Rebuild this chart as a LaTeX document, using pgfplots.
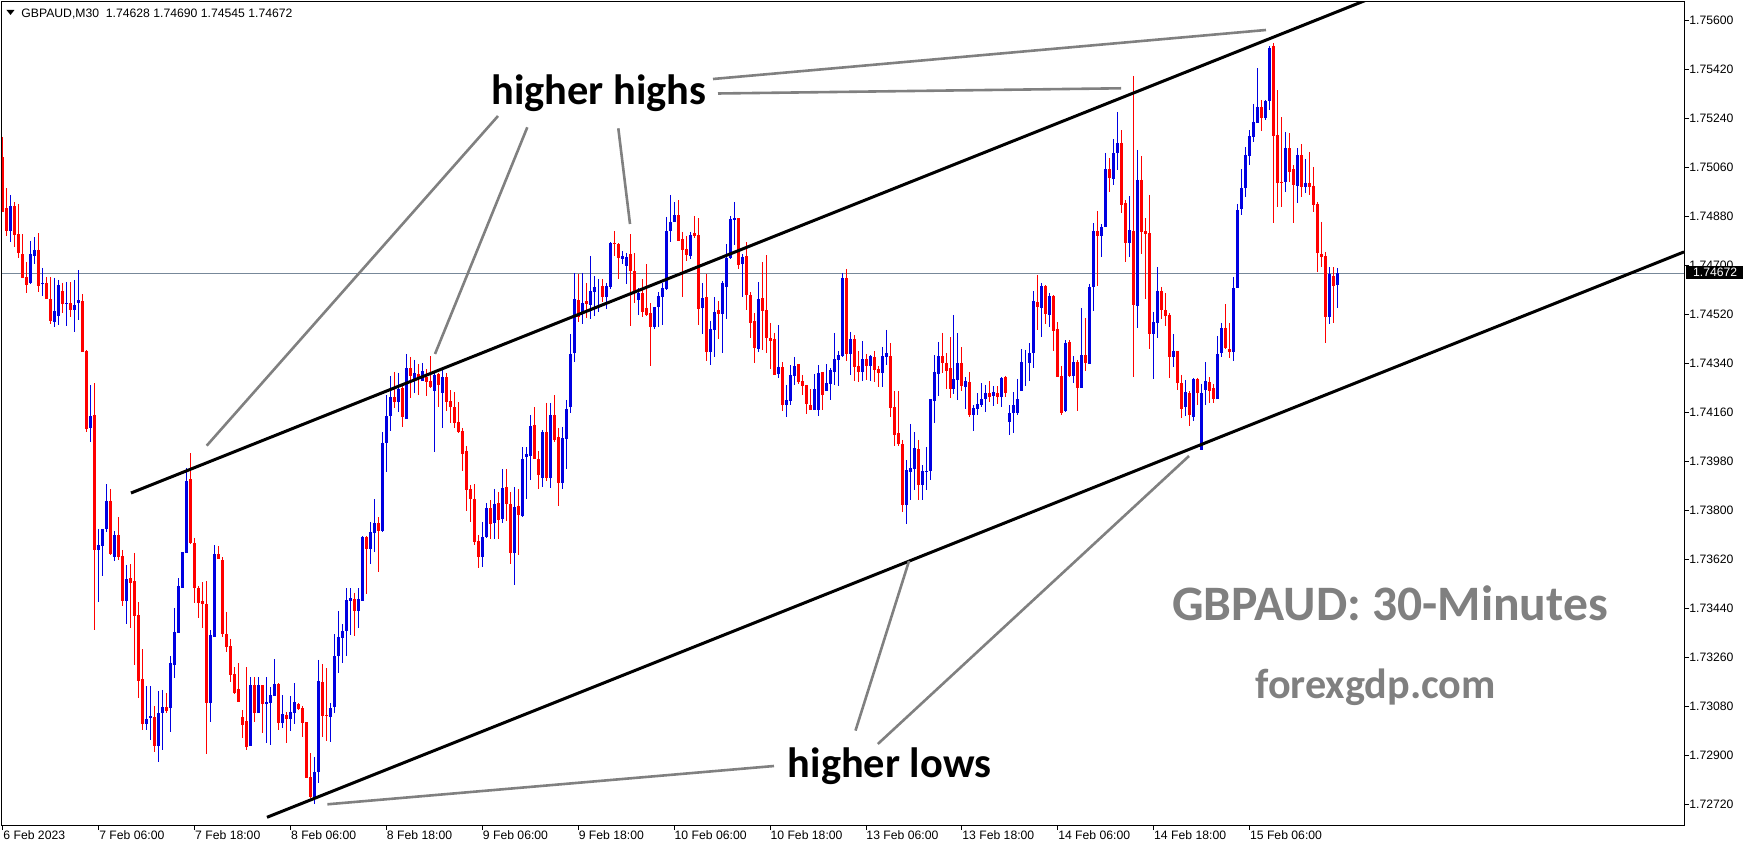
\documentclass[border=0pt]{standalone}
\usepackage{fontspec}
\setmainfont{Liberation Sans}
\newfontfamily\carlito{Carlito}
\usepackage{pgfplots}
\usepackage{pgfplotstable}
\pgfplotsset{compat=1.18}
\definecolor{bull}{RGB}{0,0,225}
\definecolor{bear}{RGB}{255,0,0}
\definecolor{anno}{RGB}{128,128,128}
\definecolor{bidline}{RGB}{119,136,153}
\newcommand\tickfont{\fontsize{6.1}{7}\selectfont}

\pgfplotstableread{
k o h l c
0 1.75098 1.75172 1.74896 1.74896
1 1.74911 1.74984 1.74808 1.74826
2 1.74826 1.74959 1.74786 1.74918
3 1.74918 1.74933 1.74768 1.74812
4 1.74815 1.74926 1.74727 1.74746
5 1.74742 1.74815 1.74654 1.74654
6 1.74658 1.74713 1.74599 1.74628
7 1.74636 1.74790 1.74632 1.74742
8 1.74735 1.74804 1.74705 1.74757
9 1.74757 1.74819 1.74602 1.74625
10 1.74632 1.74691 1.74588 1.74636
11 1.74636 1.74658 1.74577 1.74577
12 1.74577 1.74658 1.74485 1.74496
13 1.74492 1.74654 1.74474 1.74533
14 1.74514 1.74647 1.74481 1.74628
15 1.74606 1.74636 1.74525 1.74558
16 1.74558 1.74639 1.74478 1.74562
17 1.74562 1.74639 1.74511 1.74536
18 1.74536 1.74647 1.74456 1.74555
19 1.74562 1.74683 1.74500 1.74573
20 1.74569 1.74595 1.74382 1.74382
21 1.74386 1.74389 1.74088 1.74099
22 1.74103 1.74261 1.74052 1.74147
23 1.74151 1.74268 1.73361 1.73655
24 1.73655 1.73732 1.73464 1.73673
25 1.73670 1.73732 1.73559 1.73732
26 1.73732 1.73897 1.73721 1.73835
27 1.73835 1.73879 1.73636 1.73640
28 1.73629 1.73725 1.73614 1.73710
29 1.73710 1.73776 1.73618 1.73629
30 1.73633 1.73655 1.73449 1.73467
31 1.73467 1.73600 1.73383 1.73548
32 1.73552 1.73603 1.73368 1.73534
33 1.73541 1.73644 1.73232 1.73412
34 1.73416 1.73464 1.73111 1.73174
35 1.73181 1.73291 1.72994 1.73016
36 1.73016 1.73155 1.72994 1.73034
37 1.73038 1.73155 1.72957 1.73045
38 1.73041 1.73082 1.72913 1.72935
39 1.72935 1.73137 1.72876 1.73056
40 1.73056 1.73141 1.72920 1.73078
41 1.73078 1.73130 1.73056 1.73063
42 1.73074 1.73266 1.72986 1.73240
43 1.73232 1.73442 1.73185 1.73354
44 1.73350 1.73552 1.73350 1.73523
45 1.73515 1.73648 1.73515 1.73648
46 1.73644 1.73956 1.73644 1.73908
47 1.73916 1.74011 1.73677 1.73681
48 1.73681 1.73699 1.73460 1.73515
49 1.73515 1.73523 1.73405 1.73460
50 1.73467 1.73537 1.73368 1.73456
51 1.73456 1.73541 1.72906 1.73093
52 1.73093 1.73361 1.73023 1.73343
53 1.73335 1.73673 1.73335 1.73640
54 1.73640 1.73670 1.73622 1.73622
55 1.73618 1.73629 1.73335 1.73346
56 1.73346 1.73427 1.73280 1.73299
57 1.73302 1.73328 1.73170 1.73196
58 1.73199 1.73225 1.73126 1.73130
59 1.73144 1.73240 1.73097 1.73097
60 1.73041 1.73067 1.72964 1.73012
61 1.73027 1.73225 1.72920 1.72931
62 1.72935 1.73188 1.72935 1.73159
63 1.73159 1.73188 1.73023 1.73056
64 1.73056 1.73188 1.73056 1.73159
65 1.73159 1.73159 1.72983 1.73089
66 1.73089 1.73188 1.72946 1.73097
67 1.73093 1.73152 1.72939 1.73122
68 1.73119 1.73254 1.73119 1.73163
69 1.73163 1.73166 1.72994 1.73019
70 1.73019 1.73122 1.73001 1.73052
71 1.73049 1.73060 1.72946 1.73034
72 1.73034 1.73119 1.72990 1.73060
73 1.73056 1.73166 1.73016 1.73097
74 1.73089 1.73093 1.73067 1.73071
75 1.73074 1.73082 1.72968 1.73019
76 1.73023 1.73023 1.72817 1.72817
77 1.72821 1.72909 1.72744 1.72748
78 1.72748 1.72895 1.72722 1.72839
79 1.72839 1.73251 1.72799 1.73174
80 1.73170 1.73236 1.72968 1.73045
81 1.73049 1.73221 1.72953 1.73045
82 1.73041 1.73093 1.72950 1.73074
83 1.73078 1.73346 1.73056 1.73266
84 1.73266 1.73431 1.73203 1.73335
85 1.73332 1.73383 1.73240 1.73357
86 1.73357 1.73515 1.73266 1.73471
87 1.73467 1.73515 1.73343 1.73478
88 1.73475 1.73497 1.73339 1.73431
89 1.73431 1.73515 1.73368 1.73475
90 1.73467 1.73706 1.73467 1.73703
91 1.73703 1.73706 1.73493 1.73658
92 1.73658 1.73758 1.73603 1.73721
93 1.73717 1.73842 1.73648 1.73754
94 1.73754 1.73776 1.73574 1.73725
95 1.73725 1.74088 1.73721 1.74048
96 1.74048 1.74224 1.73941 1.74147
97 1.74147 1.74294 1.74092 1.74217
98 1.74217 1.74309 1.74176 1.74198
99 1.74198 1.74305 1.74162 1.74246
100 1.74250 1.74268 1.74107 1.74143
101 1.74136 1.74375 1.74136 1.74323
102 1.74323 1.74364 1.74213 1.74294
103 1.74279 1.74353 1.74231 1.74305
104 1.74301 1.74338 1.74224 1.74290
105 1.74276 1.74342 1.74276 1.74312
106 1.74290 1.74320 1.74220 1.74272
107 1.74276 1.74367 1.74250 1.74254
108 1.74239 1.74309 1.74015 1.74298
109 1.74301 1.74305 1.74180 1.74261
110 1.74231 1.74316 1.74103 1.74290
111 1.74290 1.74305 1.74165 1.74198
112 1.74202 1.74242 1.74121 1.74180
113 1.74180 1.74235 1.74103 1.74121
114 1.74125 1.74198 1.74085 1.74088
115 1.74092 1.74103 1.73945 1.74007
116 1.74018 1.74037 1.73798 1.73875
117 1.73879 1.73894 1.73758 1.73842
118 1.73842 1.73897 1.73673 1.73684
119 1.73688 1.73710 1.73589 1.73629
120 1.73629 1.73758 1.73592 1.73703
121 1.73703 1.73827 1.73699 1.73809
122 1.73809 1.73838 1.73695 1.73750
123 1.73754 1.73879 1.73695 1.73824
124 1.73827 1.73868 1.73695 1.73765
125 1.73769 1.73952 1.73754 1.73883
126 1.73886 1.73952 1.73761 1.73824
127 1.73824 1.73868 1.73603 1.73644
128 1.73644 1.73886 1.73526 1.73813
129 1.73816 1.73879 1.73636 1.73783
130 1.73780 1.74033 1.73776 1.73989
131 1.73996 1.74033 1.73842 1.74007
132 1.74000 1.74151 1.73912 1.74110
133 1.74114 1.74180 1.73989 1.73989
134 1.73989 1.74018 1.73879 1.73930
135 1.73919 1.74096 1.73886 1.74088
136 1.74088 1.74195 1.73908 1.73919
137 1.73919 1.74195 1.73883 1.74151
138 1.74151 1.74224 1.74052 1.74059
139 1.74070 1.74103 1.73816 1.73901
140 1.73901 1.74107 1.73879 1.74066
141 1.74062 1.74206 1.73952 1.74173
142 1.74180 1.74448 1.74158 1.74375
143 1.74378 1.74672 1.74345 1.74577
144 1.74573 1.74669 1.74492 1.74511
145 1.74529 1.74672 1.74485 1.74562
146 1.74569 1.74636 1.74507 1.74558
147 1.74555 1.74735 1.74503 1.74606
148 1.74602 1.74661 1.74514 1.74621
149 1.74621 1.74650 1.74529 1.74621
150 1.74625 1.74650 1.74566 1.74584
151 1.74584 1.74636 1.74540 1.74625
152 1.74621 1.74786 1.74613 1.74782
153 1.74782 1.74826 1.74735 1.74779
154 1.74779 1.74782 1.74650 1.74727
155 1.74724 1.74753 1.74705 1.74735
156 1.74698 1.74746 1.74632 1.74731
157 1.74742 1.74815 1.74478 1.74680
158 1.74680 1.74746 1.74562 1.74599
159 1.74573 1.74617 1.74518 1.74599
160 1.74599 1.74650 1.74511 1.74529
161 1.74544 1.74705 1.74514 1.74518
162 1.74525 1.74562 1.74331 1.74474
163 1.74474 1.74547 1.74467 1.74547
164 1.74547 1.74602 1.74474 1.74588
165 1.74584 1.74636 1.74481 1.74617
166 1.74613 1.74878 1.74610 1.74826
167 1.74826 1.74959 1.74786 1.74860
168 1.74860 1.74933 1.74860 1.74885
169 1.74885 1.74940 1.74790 1.74790
170 1.74797 1.74823 1.74584 1.74757
171 1.74760 1.74808 1.74716 1.74738
172 1.74735 1.74823 1.74724 1.74812
173 1.74819 1.74882 1.74801 1.74808
174 1.74812 1.74874 1.74481 1.74540
175 1.74544 1.74636 1.74448 1.74580
176 1.74584 1.74669 1.74349 1.74382
177 1.74382 1.74496 1.74334 1.74467
178 1.74463 1.74584 1.74364 1.74529
179 1.74536 1.74569 1.74430 1.74522
180 1.74522 1.74643 1.74378 1.74636
181 1.74621 1.74779 1.74503 1.74727
182 1.74727 1.74882 1.74724 1.74871
183 1.74867 1.74933 1.74775 1.74874
184 1.74874 1.74874 1.74687 1.74702
185 1.74705 1.74742 1.74584 1.74731
186 1.74735 1.74786 1.74536 1.74591
187 1.74591 1.74602 1.74433 1.74489
188 1.74496 1.74525 1.74342 1.74397
189 1.74393 1.74639 1.74382 1.74577
190 1.74580 1.74713 1.74389 1.74533
191 1.74536 1.74738 1.74378 1.74433
192 1.74433 1.74489 1.74320 1.74422
193 1.74430 1.74452 1.74298 1.74298
194 1.74301 1.74481 1.74287 1.74327
195 1.74327 1.74345 1.74165 1.74187
196 1.74187 1.74261 1.74143 1.74206
197 1.74202 1.74334 1.74187 1.74298
198 1.74294 1.74364 1.74261 1.74331
199 1.74338 1.74338 1.74265 1.74272
200 1.74276 1.74298 1.74224 1.74257
201 1.74261 1.74261 1.74154 1.74191
202 1.74187 1.74246 1.74169 1.74169
203 1.74169 1.74301 1.74169 1.74246
204 1.74169 1.74334 1.74147 1.74305
205 1.74309 1.74309 1.74169 1.74224
206 1.74239 1.74338 1.74239 1.74268
207 1.74265 1.74323 1.74206 1.74316
208 1.74309 1.74452 1.74261 1.74356
209 1.74353 1.74386 1.74257 1.74371
210 1.74367 1.74672 1.74364 1.74654
211 1.74654 1.74687 1.74349 1.74375
212 1.74375 1.74456 1.74298 1.74430
213 1.74430 1.74444 1.74276 1.74327
214 1.74331 1.74386 1.74272 1.74309
215 1.74309 1.74422 1.74276 1.74356
216 1.74356 1.74375 1.74279 1.74331
217 1.74331 1.74371 1.74276 1.74367
218 1.74364 1.74386 1.74272 1.74316
219 1.74320 1.74331 1.74254 1.74305
220 1.74305 1.74400 1.74254 1.74367
221 1.74364 1.74463 1.74334 1.74378
222 1.74367 1.74415 1.74143 1.74176
223 1.74180 1.74239 1.74037 1.74077
224 1.74085 1.74239 1.74037 1.74044
225 1.74044 1.74059 1.73794 1.73820
226 1.73820 1.73985 1.73750 1.73949
227 1.73941 1.74118 1.73838 1.73956
228 1.73952 1.74088 1.73875 1.74029
229 1.74026 1.74059 1.73838 1.73894
230 1.73894 1.73967 1.73838 1.73945
231 1.73941 1.74033 1.73875 1.73945
232 1.73945 1.74209 1.73912 1.74209
233 1.74202 1.74371 1.74121 1.74309
234 1.74301 1.74419 1.74220 1.74367
235 1.74367 1.74452 1.74305 1.74342
236 1.74342 1.74378 1.74246 1.74312
237 1.74323 1.74437 1.74213 1.74246
238 1.74246 1.74518 1.74228 1.74283
239 1.74279 1.74452 1.74206 1.74342
240 1.74342 1.74400 1.74239 1.74257
241 1.74254 1.74290 1.74173 1.74276
242 1.74272 1.74309 1.74143 1.74151
243 1.74151 1.74187 1.74092 1.74176
244 1.74173 1.74231 1.74151 1.74191
245 1.74187 1.74268 1.74180 1.74209
246 1.74209 1.74261 1.74162 1.74231
247 1.74231 1.74276 1.74198 1.74217
248 1.74220 1.74257 1.74184 1.74235
249 1.74231 1.74257 1.74191 1.74217
250 1.74217 1.74290 1.74180 1.74287
251 1.74290 1.74294 1.74217 1.74231
252 1.74125 1.74187 1.74077 1.74158
253 1.74158 1.74235 1.74085 1.74187
254 1.74158 1.74283 1.74151 1.74209
255 1.74239 1.74393 1.74239 1.74345
256 1.74345 1.74389 1.74257 1.74345
257 1.74342 1.74415 1.74276 1.74378
258 1.74378 1.74606 1.74323 1.74569
259 1.74566 1.74665 1.74463 1.74547
260 1.74544 1.74636 1.74437 1.74625
261 1.74625 1.74628 1.74485 1.74522
262 1.74518 1.74599 1.74474 1.74588
263 1.74588 1.74591 1.74386 1.74459
264 1.74467 1.74492 1.74290 1.74290
265 1.74294 1.74331 1.74151 1.74158
266 1.74165 1.74426 1.74162 1.74415
267 1.74419 1.74426 1.74290 1.74294
268 1.74294 1.74367 1.74268 1.74345
269 1.74345 1.74353 1.74165 1.74250
270 1.74250 1.74544 1.74250 1.74371
271 1.74371 1.74507 1.74312 1.74342
272 1.74338 1.74632 1.74338 1.74621
273 1.74621 1.74856 1.74533 1.74826
274 1.74826 1.74900 1.74625 1.74808
275 1.74808 1.74852 1.74731 1.74841
276 1.74841 1.75113 1.74841 1.75054
277 1.75054 1.75095 1.74970 1.75021
278 1.75017 1.75164 1.74995 1.75113
279 1.75113 1.75264 1.75051 1.75150
280 1.75150 1.75197 1.74893 1.74922
281 1.74929 1.74940 1.74713 1.74782
282 1.74782 1.74955 1.74731 1.74830
283 1.74826 1.75396 1.74290 1.74555
284 1.74551 1.75124 1.74470 1.75014
285 1.75014 1.75102 1.74742 1.74823
286 1.74826 1.74874 1.74577 1.74815
287 1.74819 1.74959 1.74393 1.74448
288 1.74448 1.74529 1.74283 1.74492
289 1.74489 1.74694 1.74433 1.74606
290 1.74606 1.74621 1.74503 1.74536
291 1.74536 1.74599 1.74478 1.74514
292 1.74518 1.74525 1.74287 1.74364
293 1.74364 1.74448 1.74327 1.74386
294 1.74386 1.74386 1.74242 1.74268
295 1.74268 1.74298 1.74140 1.74173
296 1.74180 1.74279 1.74147 1.74235
297 1.74231 1.74239 1.74110 1.74151
298 1.74143 1.74287 1.74129 1.74283
299 1.74283 1.74287 1.74187 1.74231
300 1.74022 1.74265 1.74022 1.74231
301 1.74242 1.74345 1.74187 1.74276
302 1.74272 1.74290 1.74195 1.74239
303 1.74250 1.74265 1.74195 1.74209
304 1.74209 1.74441 1.74209 1.74375
305 1.74378 1.74489 1.74364 1.74470
306 1.74470 1.74558 1.74393 1.74397
307 1.74393 1.74489 1.74360 1.74382
308 1.74382 1.74658 1.74349 1.74617
309 1.74617 1.74926 1.74617 1.74904
310 1.74907 1.75054 1.74885 1.74984
311 1.74984 1.75135 1.74951 1.75106
312 1.75102 1.75197 1.75069 1.75175
313 1.75172 1.75293 1.75153 1.75227
314 1.75223 1.75425 1.75223 1.75282
315 1.75282 1.75308 1.75194 1.75242
316 1.75242 1.75308 1.75234 1.75304
317 1.75304 1.75506 1.75271 1.75499
318 1.75506 1.75517 1.74856 1.75175
319 1.75179 1.75344 1.74915 1.75003
320 1.75007 1.75245 1.74915 1.75003
321 1.75007 1.75190 1.74970 1.75131
322 1.75131 1.75186 1.75007 1.75043
323 1.75054 1.75069 1.74856 1.74995
324 1.74992 1.75131 1.74929 1.75106
325 1.75106 1.75146 1.74951 1.74988
326 1.74988 1.75091 1.74966 1.75003
327 1.75003 1.75117 1.74959 1.74988
328 1.74992 1.75062 1.74896 1.74922
329 1.74926 1.74933 1.74676 1.74746
330 1.74742 1.74860 1.74694 1.74731
331 1.74735 1.74749 1.74415 1.74511
332 1.74511 1.74694 1.74485 1.74669
333 1.74661 1.74694 1.74489 1.74625
334 1.74628 1.74690 1.74545 1.74672
}\candles

\begin{document}
\begin{tikzpicture}
\begin{axis}[
  name=ax, at={(0,0)}, anchor=north west,
  scale only axis, width=841pt, height=411.5pt,
  xmin=-0.25, xmax=420.7, ymin=1.726448, ymax=1.756676,
  axis line style={line width=0.5pt, black},
  xtick={0,24,...,312},
  xticklabels={6 Feb 2023,7 Feb 06:00,7 Feb 18:00,8 Feb 06:00,8 Feb 18:00,9 Feb 06:00,9 Feb 18:00,10 Feb 06:00,10 Feb 18:00,13 Feb 06:00,13 Feb 18:00,14 Feb 06:00,14 Feb 18:00,15 Feb 06:00},
  ytick={1.7272,1.7290,1.7308,1.7326,1.7344,1.7362,1.7380,1.7398,1.7416,1.7434,1.7452,1.7470,1.7488,1.7506,1.7524,1.7542,1.7560},
  yticklabels={1.72720,1.72900,1.73080,1.73260,1.73440,1.73620,1.73800,1.73980,1.74160,1.74340,1.74520,1.74700,1.74880,1.75060,1.75240,1.75420,1.75600},
  xtick pos=bottom, ytick pos=right, yticklabel pos=right,
  tick align=outside, major tick length=2.5pt,
  tick style={black, line width=0.5pt},
  xticklabel style={anchor=north west, inner sep=0pt, font=\tickfont},
  yticklabel style={anchor=west, inner sep=0pt, font=\tickfont},
  clip=true,
  candle/.style={draw=none, mark=none, forget plot},
]
\addplot[bidline, line width=0.5pt] coordinates {(-0.25,1.74672) (420.7,1.74672)};
% wicks
\addplot[candle, restrict expr to domain={\thisrow{c}-\thisrow{o}}{0:1},
  error bars/.cd, y dir=minus, y explicit, error mark=none,
  error bar style={line width=0.5pt, draw=bull}]
  table[x=k, y=h, y error minus expr=\thisrow{h}-\thisrow{l}] {\candles};
\addplot[candle, restrict expr to domain={\thisrow{c}-\thisrow{o}}{-1:-0.000001},
  error bars/.cd, y dir=minus, y explicit, error mark=none,
  error bar style={line width=0.5pt, draw=bear}]
  table[x=k, y=h, y error minus expr=\thisrow{h}-\thisrow{l}] {\candles};
% bodies
\addplot[candle, restrict expr to domain={\thisrow{c}-\thisrow{o}}{0:1},
  error bars/.cd, y dir=minus, y explicit, error mark=none,
  error bar style={line width=1.5pt, draw=bull}]
  table[x=k, y=c, y error minus expr=\thisrow{c}-\thisrow{o}] {\candles};
\addplot[candle, restrict expr to domain={\thisrow{c}-\thisrow{o}}{-1:-0.000001},
  error bars/.cd, y dir=minus, y explicit, error mark=none,
  error bar style={line width=1.5pt, draw=bear}]
  table[x=k, y=o, y error minus expr=\thisrow{o}-\thisrow{c}] {\candles};
% channel
\addplot[black, line width=1.5pt] coordinates {(32.03,1.738642) (420.7,1.761402)};
\addplot[black, line width=1.5pt] coordinates {(66.07,1.726731) (420.7,1.747497)};
\coordinate (TL) at (rel axis cs:0,1);
\coordinate (BR) at (rel axis cs:1,0);
\end{axis}
\begin{scope}[shift={([xshift=-1pt,yshift=1pt]TL)}, x=0.5pt, y=-0.5pt]
  \begin{scope}[anno, line width=1.3pt]
    \draw (498,116) -- (206.7,445.7);
    \draw (527.3,127.3) -- (435,354);
    \draw (618.3,128.3) -- (630,224);
    \draw (713,79) -- (1266,30);
    \draw (718,93.5) -- (1121,88.3);
    \draw (774,766) -- (327.4,804.3);
    \draw (855.5,730.6) -- (909,561);
    \draw (877.8,744) -- (1189,456);
  \end{scope}
  \node[anchor=base west, inner sep=0pt, font=\carlito\bfseries\fontsize{21.2}{24}\selectfont] at (491,105) {higher highs};
  \node[anchor=base west, inner sep=0pt, font=\carlito\bfseries\fontsize{21.2}{24}\selectfont] at (787.5,777) {higher lows};
  \node[anchor=base west, inner sep=0pt, text=anno, font=\carlito\bfseries\fontsize{24.8}{28}\selectfont] at (1171.7,620) {GBPAUD: 30-Minutes};
  \node[anchor=base west, inner sep=0pt, text=anno, font=\carlito\bfseries\fontsize{21.1}{24}\selectfont] at (1255,698.3) {forexgdp.com};
  \fill[black] (1686,266) rectangle (1743,279);
  \node[anchor=west, inner sep=0pt, text=white, font=\tickfont] at (1692.7,272.5) {1.74672};
  \fill[black] (6.5,10) -- (14.5,10) -- (10.5,15) -- cycle;
  \node[anchor=base west, inner sep=0pt, font=\tickfont] at (21,17.5) {GBPAUD,M30\ \ 1.74628 1.74690 1.74545 1.74672};
\end{scope}
\pgfresetboundingbox
\path[use as bounding box] ([xshift=-1pt,yshift=1pt]TL) rectangle ([xshift=32.5pt,yshift=-12.5pt]BR);
\end{tikzpicture}
\end{document}
